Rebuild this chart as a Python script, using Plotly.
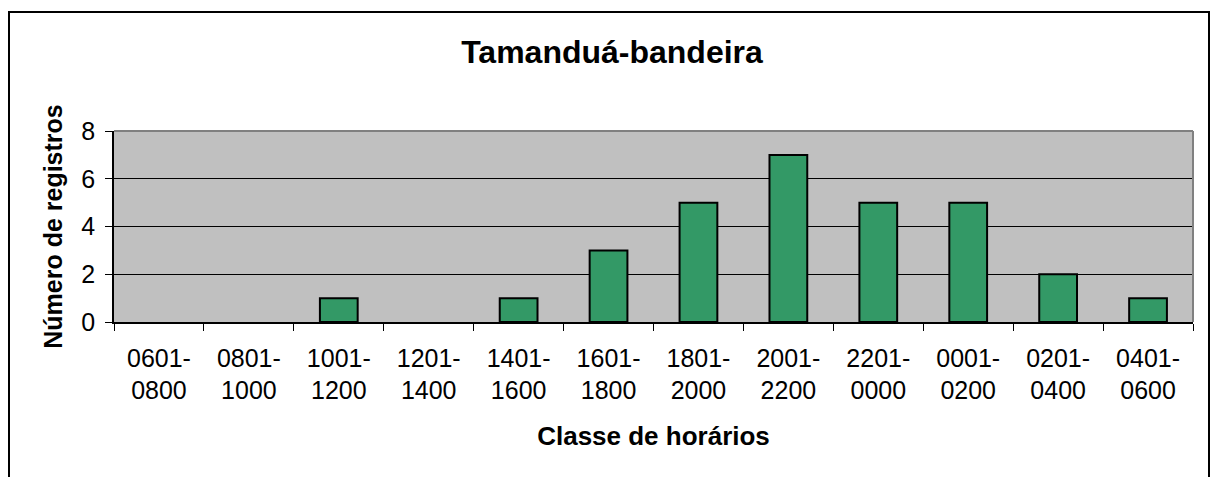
# Tamandua-bandeira: registros por classe de horario

import plotly.graph_objects as go

classes = ['0601-<br>0800', '0801-<br>1000', '1001-<br>1200', '1201-<br>1400',
           '1401-<br>1600', '1601-<br>1800', '1801-<br>2000', '2001-<br>2200',
           '2201-<br>0000', '0001-<br>0200', '0201-<br>0400', '0401-<br>0600']
registros = [0, 0, 1, 0, 1, 3, 5, 7, 5, 5, 2, 1]
y_ticks = [0, 2, 4, 6, 8]

FONT = 'Arial, Liberation Sans, sans-serif'
W, H = 1211, 477
L, R, T, B = 114, 18, 131, 155
pw, ph = W - L - R, H - T - B


def px_x(x):
    return (x - L) / pw


def px_y(y):
    return (H - B - y) / ph


# Excel draws nothing for an empty class, so no outline on zero bars
outline = [2 if v > 0 else 0 for v in registros]

fig = go.Figure()
fig.add_trace(go.Bar(x=classes, y=registros, marker=dict(color='#339966', line=dict(color='black', width=outline))))

fig.update_layout(
    width=W, height=H,
    margin=dict(l=L, r=R, t=T, b=B, autoexpand=False),
    paper_bgcolor='white', plot_bgcolor='#C0C0C0',
    bargap=0.58, showlegend=False,
    font=dict(family=FONT, size=24, color='black'),
    title=dict(text='<b>Tamanduá-bandeira</b>', x=612 / W, xanchor='center',
               y=1 - 52 / H, yanchor='middle', yref='container',
               font=dict(family=FONT, size=32, color='black')),
)
fig.update_xaxes(type='category', tickson='boundaries', ticks='outside', ticklen=7, tickcolor='black',
                 showline=True, linecolor='black', linewidth=1.5, showgrid=False, automargin=False,
                 tickfont=dict(size=25), ticklabelstandoff=13,
                 title=dict(text='<b>Classe de horários</b>', font=dict(size=26), standoff=24))
fig.update_yaxes(range=[0, 8], tickvals=y_ticks, ticks='outside', ticklen=7, tickcolor='black',
                 showline=True, linecolor='black', linewidth=1.5, automargin=False,
                 showgrid=True, gridcolor='black', gridwidth=1, zeroline=False,
                 tickfont=dict(size=25), ticklabelstandoff=5,
                 title=dict(text='<b>Número de registros</b>', font=dict(size=25), standoff=12))

# grey top and right edges of the plot area
fig.add_shape(type='line', xref='x domain', yref='y domain', x0=0, x1=1, y0=1, y1=1,
              line=dict(color='#808080', width=2), layer='above')
fig.add_shape(type='line', xref='x domain', yref='y domain', x0=1, x1=1, y0=0, y1=1,
              line=dict(color='#808080', width=2), layer='above')
# outer chart border (bottom edge runs past the picture)
fig.add_shape(type='rect', xref='paper', yref='paper',
              x0=px_x(9), x1=px_x(1209), y0=px_y(495), y1=px_y(12),
              line=dict(color='black', width=2), fillcolor='rgba(0,0,0,0)', layer='above')

# drop the default body margin so the figure sits at the window's corner
fig.write_html('out.html', config={'displayModeBar': False},
               post_script="document.body.style.margin='0';document.body.style.overflow='hidden';")
